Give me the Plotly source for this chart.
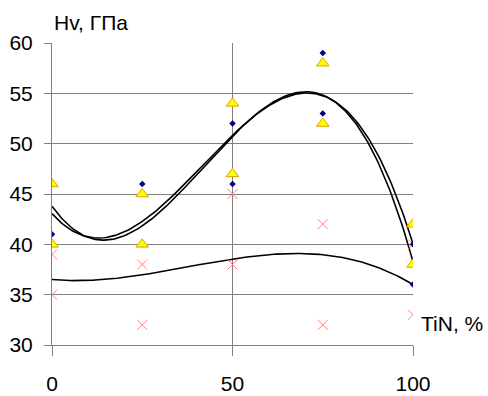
import numpy as np
import plotly.graph_objects as go

# Data
x_tri = [0, 0, 25, 25, 50, 50, 75, 75, 100, 100]
y_tri = [46, 40, 45, 40, 54, 47, 58, 52, 42, 38]

x_dia = [0, 0, 25, 25, 50, 50, 75, 75, 100, 100]
y_dia = [46, 41, 46, 40, 52, 46, 59, 53, 40, 36]

x_crs = [0, 0, 25, 25, 50, 50, 75, 75, 100, 100]
y_crs = [39, 35, 38, 32, 45, 38, 42, 32, 40, 33]

x_ticks = [0, 50, 100]
y_ticks = [30, 35, 40, 45, 50, 55, 60]

xs = np.linspace(0, 100, 201)

def trend(x, y):
    c = np.polyfit(x, y, 3)
    return np.polyval(c, xs)

fig = go.Figure()

for xx, yy in [(x_dia, y_dia), (x_tri, y_tri), (x_crs, y_crs)]:
    fig.add_trace(go.Scatter(x=xs, y=trend(xx, yy), mode="lines",
                             line=dict(color="black", width=1.6),
                             hoverinfo="skip", showlegend=False))

fig.add_trace(go.Scatter(x=x_crs, y=y_crs, mode="markers",
                         marker=dict(symbol="x-thin-open", size=10, color="#FF8080",
                                     line=dict(color="#FF8080", width=1)),
                         showlegend=False))
fig.add_trace(go.Scatter(x=x_dia, y=y_dia, mode="markers",
                         marker=dict(symbol="diamond", size=5, color="#000080"),
                         showlegend=False))
fig.add_trace(go.Scatter(x=x_tri, y=y_tri, mode="markers",
                         marker=dict(symbol="triangle-up", size=11, color="#FFFF00",
                                     line=dict(color="#E0A000", width=1)),
                         showlegend=False))

font = dict(family="Liberation Sans, Arial, sans-serif", size=21, color="black")

fig.update_layout(
    width=488, height=396, autosize=False,
    margin=dict(l=52, r=75, t=43, b=51, autoexpand=False),
    paper_bgcolor="white", plot_bgcolor="white",
    font=font,
    xaxis=dict(range=[0, 100], tickvals=x_ticks, ticks="outside", ticklen=10,
               tickcolor="#808080", showgrid=True, gridcolor="#808080", gridwidth=1,
               showline=True, linecolor="#808080", linewidth=1, zeroline=False,
               ticklabelstandoff=10, tickfont=font, automargin=False),
    yaxis=dict(range=[30, 60], tickvals=y_ticks, ticks="outside", ticklen=7,
               tickcolor="#808080", showgrid=True, gridcolor="#808080", gridwidth=1,
               showline=True, linecolor="#808080", linewidth=1, zeroline=False,
               ticklabelstandoff=7, tickfont=font, automargin=False),
    annotations=[
        dict(text="Hv, ГПа", xref="paper", yref="paper", x=0.0, y=1.0,
             xanchor="left", yanchor="bottom", showarrow=False, font=font,
             yshift=7, xshift=0),
        dict(text="TiN, %", xref="paper", yref="y", x=1.0, y=32.1,
             xanchor="left", yanchor="middle", showarrow=False, font=font, xshift=6),
    ],
)

fig.write_html("out.html", config={"displayModeBar": False},
               post_script="document.body.style.margin='0';document.body.style.padding='0';")
